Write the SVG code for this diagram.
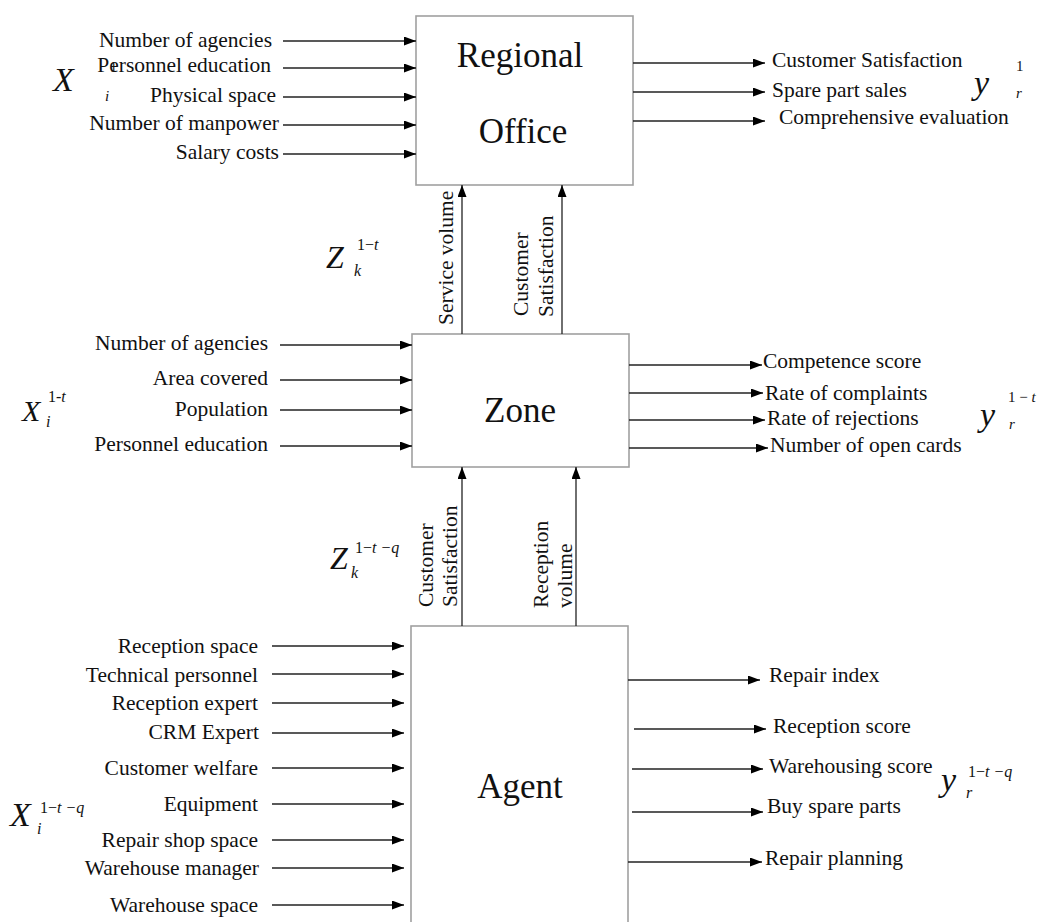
<svg xmlns="http://www.w3.org/2000/svg" width="1040" height="922" viewBox="0 0 1040 922">
<style>
.box{fill:#fff;stroke:#a0a0a0;stroke-width:1.6}
.title{font-family:"Liberation Serif",serif;font-size:35px;fill:#111;text-anchor:middle}
.lbl{font-family:"Liberation Serif",serif;font-size:21.5px;fill:#111}
.l{text-anchor:end}
.vl{font-family:"Liberation Serif",serif;font-size:21.5px;fill:#111}
.m{font-family:"Liberation Serif",serif;font-style:italic;fill:#111}
.n{font-style:normal}
.c line{stroke:#222;stroke-width:1.3;marker-end:url(#ah)}
</style>
<defs>
<marker id="ah" markerUnits="userSpaceOnUse" markerWidth="13" markerHeight="10" refX="12" refY="4.5" orient="auto">
<path d="M0,0 L12,4.5 L0,9 z" fill="#000"/>
</marker>
</defs>
<rect width="1040" height="922" fill="#fff"/>

<g id="regional-office">
<rect class="box" x="416" y="16" width="217" height="169"/>
<text class="title" x="520" y="67">Regional</text>
<text class="title" x="523" y="143">Office</text>
</g>
<g id="zone">
<rect class="box" x="412" y="334" width="217" height="133"/>
<text class="title" x="520" y="422">Zone</text>
</g>
<g id="agent">
<rect class="box" x="411" y="626" width="217" height="310"/>
<text class="title" x="520" y="798">Agent</text>
</g>

<g id="connectors" class="c">
<line x1="283" y1="41" x2="416" y2="41"/>
<line x1="283" y1="68" x2="416" y2="68"/>
<line x1="283" y1="97" x2="416" y2="97"/>
<line x1="283" y1="125" x2="416" y2="125"/>
<line x1="283" y1="154" x2="416" y2="154"/>
<line x1="633" y1="63" x2="765" y2="63"/>
<line x1="633" y1="92" x2="765" y2="92"/>
<line x1="633" y1="121" x2="765" y2="121"/>
<line x1="462" y1="334" x2="462" y2="185"/>
<line x1="562" y1="334" x2="562" y2="185"/>
<line x1="280" y1="345" x2="412" y2="345"/>
<line x1="280" y1="380" x2="412" y2="380"/>
<line x1="280" y1="410" x2="412" y2="410"/>
<line x1="280" y1="446" x2="412" y2="446"/>
<line x1="629" y1="365" x2="762" y2="365"/>
<line x1="629" y1="393" x2="763" y2="393"/>
<line x1="629" y1="420" x2="765" y2="420"/>
<line x1="629" y1="448" x2="768" y2="448"/>
<line x1="462" y1="626" x2="462" y2="467"/>
<line x1="576" y1="626" x2="576" y2="467"/>
<line x1="272" y1="646" x2="404" y2="646"/>
<line x1="272" y1="674" x2="404" y2="674"/>
<line x1="272" y1="703" x2="404" y2="703"/>
<line x1="272" y1="733" x2="404" y2="733"/>
<line x1="272" y1="768" x2="404" y2="768"/>
<line x1="272" y1="804" x2="404" y2="804"/>
<line x1="272" y1="840" x2="404" y2="840"/>
<line x1="272" y1="868" x2="404" y2="868"/>
<line x1="272" y1="905" x2="404" y2="905"/>
<line x1="628" y1="680" x2="760" y2="680"/>
<line x1="634" y1="729" x2="766" y2="729"/>
<line x1="632" y1="769" x2="763" y2="769"/>
<line x1="632" y1="812" x2="763" y2="812"/>
<line x1="628" y1="862" x2="762" y2="862"/>
</g>

<g id="labels-regional">
<text class="lbl l" x="272" y="47">Number of agencies</text>
<text class="lbl l" x="271" y="72">Personnel education</text>
<text class="lbl l" x="276" y="102">Physical space</text>
<text class="lbl l" x="279" y="130">Number of manpower</text>
<text class="lbl l" x="279" y="159">Salary costs</text>
<text class="lbl" x="772" y="67">Customer Satisfaction</text>
<text class="lbl" x="772" y="97">Spare part sales</text>
<text class="lbl" x="779" y="124">Comprehensive evaluation</text>
<text class="m" x="53" y="91" font-size="34">X</text>
<text class="m n" x="110" y="72" font-size="14">1</text>
<text class="m" x="105" y="101" font-size="15">i</text>
<text class="m" x="974" y="94" font-size="34">y</text>
<text class="m n" x="1016" y="71" font-size="15">1</text>
<text class="m" x="1016" y="98" font-size="15">r</text>
</g>

<g id="labels-z1">
<text class="vl" transform="translate(453,325) rotate(-90)">Service volume</text>
<text class="vl" transform="translate(528,316) rotate(-90)">Customer</text>
<text class="vl" transform="translate(553,317) rotate(-90)">Satisfaction</text>
<text class="m" x="326" y="268" font-size="32">Z</text>
<text class="m" x="357" y="250" font-size="16"><tspan class="n">1−</tspan>t</text>
<text class="m" x="354" y="276" font-size="16">k</text>
</g>

<g id="labels-zone">
<text class="lbl l" x="268" y="350">Number of agencies</text>
<text class="lbl l" x="268" y="385">Area covered</text>
<text class="lbl l" x="268" y="416">Population</text>
<text class="lbl l" x="268" y="451">Personnel education</text>
<text class="lbl" x="763" y="368">Competence score</text>
<text class="lbl" x="765" y="400">Rate of complaints</text>
<text class="lbl" x="767" y="425">Rate of rejections</text>
<text class="lbl" x="770" y="452">Number of open cards</text>
<text class="m" x="22" y="421" font-size="30">X</text>
<text class="m" x="48" y="402" font-size="16"><tspan class="n">1-</tspan>t</text>
<text class="m" x="46" y="427" font-size="16">i</text>
<text class="m" x="980" y="426" font-size="34">y</text>
<text class="m" x="1008" y="402" font-size="15"><tspan class="n">1 − </tspan>t</text>
<text class="m" x="1009" y="429" font-size="15">r</text>
</g>

<g id="labels-z2">
<text class="vl" transform="translate(433,607) rotate(-90)">Customer</text>
<text class="vl" transform="translate(457,607) rotate(-90)">Satisfaction</text>
<text class="vl" transform="translate(548,608) rotate(-90)">Reception</text>
<text class="vl" transform="translate(572,608) rotate(-90)">volume</text>
<text class="m" x="330" y="569" font-size="32">Z</text>
<text class="m" x="355" y="553" font-size="16"><tspan class="n">1−</tspan>t −q</text>
<text class="m" x="351" y="578" font-size="16">k</text>
</g>

<g id="labels-agent">
<text class="lbl l" x="258" y="653">Reception space</text>
<text class="lbl l" x="258" y="682">Technical personnel</text>
<text class="lbl l" x="258" y="710">Reception expert</text>
<text class="lbl l" x="259" y="739">CRM Expert</text>
<text class="lbl l" x="258" y="775">Customer welfare</text>
<text class="lbl l" x="258" y="811">Equipment</text>
<text class="lbl l" x="258" y="847">Repair shop space</text>
<text class="lbl l" x="259" y="875">Warehouse manager</text>
<text class="lbl l" x="258" y="912">Warehouse space</text>
<text class="lbl" x="769" y="682">Repair index</text>
<text class="lbl" x="773" y="733">Reception score</text>
<text class="lbl" x="769" y="773">Warehousing score</text>
<text class="lbl" x="767" y="813">Buy spare parts</text>
<text class="lbl" x="765" y="865">Repair planning</text>
<text class="m" x="10" y="826" font-size="34">X</text>
<text class="m" x="40" y="813" font-size="16"><tspan class="n">1−</tspan>t −q</text>
<text class="m" x="37" y="834" font-size="16">i</text>
<text class="m" x="941" y="791" font-size="34">y</text>
<text class="m" x="968" y="777" font-size="16"><tspan class="n">1−</tspan>t −q</text>
<text class="m" x="966" y="798" font-size="16">r</text>
</g>
</svg>
